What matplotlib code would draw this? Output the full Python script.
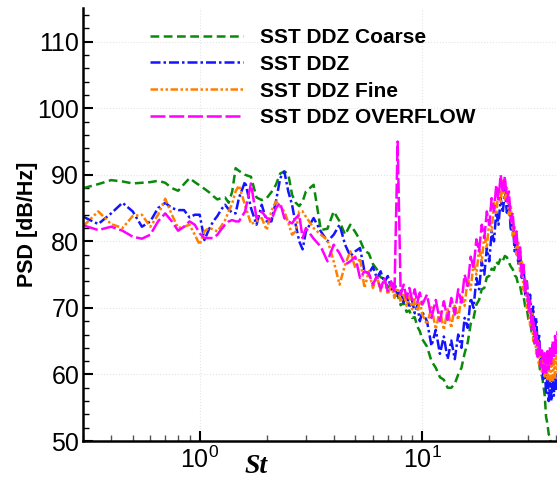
import matplotlib
matplotlib.use('Agg')
import matplotlib.pyplot as plt
from matplotlib.ticker import MultipleLocator, LogLocator, NullFormatter

plt.rcParams['font.family'] = ['Liberation Sans', 'DejaVu Sans']

# Strouhal number grid (shared by the four spectra)
st = [0.30, 0.35, 0.40, 0.45, 0.50, 0.55, 0.60, 0.65, 0.70, 0.75,
      0.80, 0.85, 0.90, 0.95, 1.00, 1.05, 1.10, 1.15, 1.20, 1.25,
      1.30, 1.35, 1.40, 1.45, 1.50,
      1.6, 1.7, 1.8, 1.9, 2.0, 2.1, 2.2, 2.3, 2.4, 2.5, 2.6, 2.7, 2.8, 2.9, 3.0,
      3.25, 3.5, 3.75, 4.0, 4.25, 4.5, 4.75, 5.0, 5.25, 5.5, 5.75, 6.0, 6.25, 6.5,
      6.75, 7.0, 7.25, 7.5, 7.75, 8.0, 8.25, 8.5, 8.75, 9.0, 9.25, 9.5, 9.75, 10.0,
      10.5, 11.0, 11.5, 12.0, 12.5, 13.0, 13.5, 14.0, 14.5, 15.0,
      15.5, 16.0, 16.5, 17.0, 17.5, 18.0, 18.5, 19.0, 19.5, 20.0,
      20.5, 21.0, 21.5, 22.0, 22.5, 23.0, 23.5, 24.0, 24.5, 25.0,
      25.5, 26.0, 26.5, 27.0, 27.5, 28.0, 28.5, 29.0, 29.5, 30.0,
      30.5, 31.0, 31.5, 32.0, 32.5, 33.0, 33.5, 34.0, 34.5, 35.0,
      35.5, 36.0, 36.5, 37.0, 37.5, 38.0, 38.5, 39.0, 39.5, 40.0,
      40.5]

psd_coarse = [88.0, 88.6, 89.2, 89.0, 88.7, 88.8, 88.9, 89.1, 88.8, 88.0,
              87.6, 88.6, 89.5, 88.9, 88.4, 87.9, 87.4, 86.8, 86.3, 86.5,
              86.6, 85.8, 87.5, 91.0, 90.6,
              90.0, 89.7, 86.6, 86.2, 86.5, 87.4, 88.5, 90.2, 90.5, 90.1, 87.0, 85.8, 85.3, 86.0, 87.5,
              88.5, 81.7, 81.9, 84.5, 83.0, 81.0, 82.5, 81.4, 80.2, 78.6, 78.2, 76.6, 75.8, 74.6,
              74.4, 73.2, 73.0, 71.8, 71.9, 70.4, 70.8, 69.4, 69.6, 68.5, 68.6, 67.2, 66.5, 65.3,
              64.2, 62.0, 61.0, 59.6, 59.2, 58.0, 58.0, 58.6, 60.0, 61.0,
              63.2, 64.8, 67.6, 68.5, 70.5, 71.2, 72.8, 73.0, 74.6, 74.8,
              75.9, 75.7, 76.9, 76.6, 77.5, 77.1, 77.8, 77.6, 76.8, 76.2,
              75.8, 74.9, 74.6, 73.4, 73.3, 71.9, 71.8, 70.2, 69.8, 68.3,
              68.0, 66.4, 66.2, 64.6, 64.0, 62.6, 61.6, 60.2, 59.8, 58.4,
              56.8, 53.6, 52.6, 51.0, 50.6, 49.0, 47.6, 46.0, 45.2, 44.0,
              43.0]

psd_ddz = [83.7, 82.6, 84.2, 85.8, 84.5, 82.2, 83.0, 85.0, 85.8, 85.0,
           84.7, 84.7, 83.6, 84.0, 84.0, 80.2, 81.8, 83.0, 83.8, 84.8,
           85.5, 84.8, 84.3, 84.2, 86.5,
           89.0, 85.0, 82.5, 85.5, 83.0, 83.0, 86.0, 89.5, 90.5, 87.5, 85.5, 82.5, 80.0, 78.8, 81.5,
           83.5, 81.5, 80.0, 81.0, 82.5, 79.5, 77.8, 78.5, 79.0, 75.5, 75.2, 76.2, 74.5, 75.5,
           73.8, 74.8, 72.8, 73.8, 71.8, 72.8, 70.8, 72.0, 70.0, 71.2, 69.2, 70.4, 68.0, 69.4,
           68.0, 64.3, 66.7, 63.1, 65.7, 62.3, 65.1, 62.3, 66.0, 64.0,
           68.5, 67.0, 71.5, 70.0, 74.5, 72.8, 77.0, 75.0, 79.0, 77.0,
           81.5, 80.0, 84.5, 82.5, 86.5, 84.3, 87.7, 84.3, 86.0, 81.5,
           83.0, 78.5, 80.5, 76.5, 78.5, 74.5, 76.3, 72.0, 74.0, 70.0,
           72.0, 68.0, 70.2, 66.5, 68.5, 64.3, 66.0, 61.7, 63.5, 59.3,
           61.3, 57.0, 60.0, 56.0, 59.3, 56.0, 59.5, 56.8, 60.1, 57.5,
           60.5]

psd_fine = [82.3, 84.5, 82.6, 82.0, 83.8, 84.0, 82.2, 84.0, 86.4, 84.0,
            82.0, 82.2, 82.5, 81.0, 79.5, 81.5, 82.0, 81.8, 81.5, 82.3,
            83.2, 84.5, 85.7, 87.5, 88.4,
            85.4, 82.6, 83.0, 83.5, 81.7, 84.6, 86.0, 85.2, 84.5, 82.8, 81.0, 81.5, 84.5, 84.5, 83.7,
            82.0, 81.0, 80.2, 77.0, 73.5, 76.5, 78.5, 76.0, 77.5, 73.0, 75.5, 73.0, 74.8, 72.5,
            74.2, 72.0, 73.5, 71.5, 73.0, 70.8, 72.3, 70.3, 71.8, 69.8, 71.3, 69.5, 71.0, 69.0,
            67.5, 70.1, 66.8, 69.7, 66.7, 69.8, 67.0, 70.5, 68.2, 72.0,
            70.3, 74.5, 72.7, 76.9, 75.0, 79.0, 77.0, 81.0, 79.0, 83.2,
            81.5, 85.8, 84.0, 88.0, 85.8, 89.3, 86.1, 88.3, 84.0, 85.5,
            80.8, 82.3, 78.0, 79.8, 75.5, 77.1, 72.7, 74.3, 70.0, 71.7,
            67.4, 69.2, 65.0, 67.0, 63.1, 65.3, 61.5, 63.9, 60.4, 63.0,
            59.7, 62.5, 59.3, 62.1, 59.0, 62.0, 59.1, 62.3, 59.5, 62.8,
            60.1]

psd_overflow = [82.4, 81.7, 82.2, 81.6, 80.7, 80.4, 81.0, 83.0, 84.2, 83.0,
                81.6, 82.2, 83.0, 82.5, 81.2, 80.5, 80.5, 80.5, 81.0, 81.8,
                82.5, 83.0, 83.2, 83.0, 83.0,
                84.5, 88.7, 83.5, 84.5, 83.5, 83.2, 85.0, 85.8, 83.5, 83.0, 82.7, 83.5, 84.0, 80.5, 82.0,
                80.4, 79.2, 77.0, 79.5, 78.2, 76.5, 77.0, 77.7, 74.5, 75.5, 75.2, 73.5, 74.8, 72.8,
                74.5, 72.5, 74.0, 72.2, 95.0, 72.0, 73.5, 71.5, 73.0, 71.2, 72.8, 70.8, 72.3, 70.5,
                72.0, 68.5, 71.2, 68.0, 71.0, 68.2, 71.5, 69.0, 72.8, 70.8,
                75.0, 73.3, 77.7, 76.0, 80.3, 78.5, 82.5, 80.5, 84.5, 82.5,
                86.5, 84.5, 88.5, 86.3, 90.0, 87.3, 89.8, 86.0, 87.5, 83.0,
                84.3, 79.8, 81.5, 77.3, 79.1, 74.8, 76.5, 72.2, 73.9, 69.5,
                71.1, 66.8, 68.7, 64.7, 66.7, 62.7, 64.8, 61.1, 63.6, 60.3,
                63.2, 60.3, 63.5, 60.8, 64.2, 61.6, 65.0, 62.4, 65.8, 63.2,
                66.5]

labels = ['SST DDZ Coarse', 'SST DDZ', 'SST DDZ Fine', 'SST DDZ OVERFLOW']
colors = ['#0a8a0a', '#1414ff', '#ff8000', '#ff00ff']
dash_styles = [(3.5, 1.8), (4, 1.2, 1, 1.2), (3, 1, 1, 1, 1, 1), (6, 1.5)]

fig = plt.figure(figsize=(5.57, 4.84), dpi=100)
ax = fig.add_axes([0.1496, 0.0888, 0.8504, 0.8938])

for y, lab, c, ds in zip([psd_coarse, psd_ddz, psd_fine, psd_overflow], labels, colors, dash_styles):
    ax.plot(st, y, color=c, lw=1.8, dashes=ds, label=lab)

ax.set_xscale('log')
ax.set_xlim(0.3, 40.3)
ax.set_ylim(50, 115)
ax.set_yticks([50, 60, 70, 80, 90, 100, 110])
ax.yaxis.set_minor_locator(MultipleLocator(2))
ax.xaxis.set_major_locator(LogLocator(base=10))
ax.xaxis.set_minor_locator(LogLocator(base=10, subs=range(2, 10)))
ax.xaxis.set_minor_formatter(NullFormatter())

ax.grid(True, which='major', color='#e4e4e4', linestyle=':', lw=0.8)

for s in ['top', 'right']:
    ax.spines[s].set_visible(False)
for s in ['left', 'bottom']:
    ax.spines[s].set_linewidth(1.8)

ax.tick_params(which='major', direction='in', length=7, width=1.5, labelsize=18)
ax.tick_params(axis='x', which='major', pad=4)
ax.tick_params(axis='y', which='major', pad=3)
ax.tick_params(which='minor', direction='in', length=4.3, width=1.0)
ax.tick_params(axis='x', which='minor', color='#555555')

ax.set_ylabel('PSD [dB/Hz]', fontsize=15.5, fontweight='bold')
ax.yaxis.set_label_coords(-0.095, 0.5)
ax.set_xlabel('St', fontsize=20, fontweight='bold', style='italic', family='Liberation Serif')
ax.xaxis.set_label_coords(0.365, -0.03)

ax.legend(loc='upper left', bbox_to_anchor=(0.14, 0.955), frameon=False,
          prop={'weight': 'bold', 'size': 15}, handlelength=4.5,
          handletextpad=0.8, labelspacing=0.375, borderpad=0, borderaxespad=0)

fig.savefig('out.png', dpi=100)
